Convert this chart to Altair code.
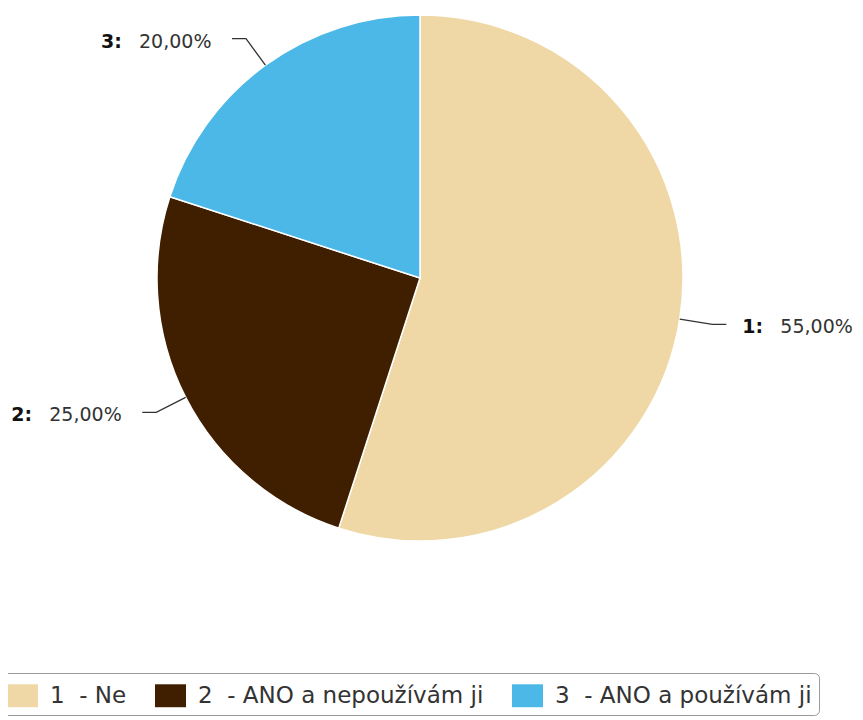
import altair as alt
import pandas as pd

# ---- data ----
categories = ["1", "2", "3"]
names = ["Ne", "ANO a nepoužívám ji", "ANO a používám ji"]
values = [55.0, 25.0, 20.0]
colors = ["#EFD8A5", "#3F1F00", "#4CB8E8"]

# ---- layout constants ----
W, H = 847, 712
CX, CY, R = 412, 270, 263
OUT = 33      # radial length of connector
HOR = 14      # horizontal part of connector
GAP = 16      # gap between connector and label
SPAN = 115    # label width (number + value)
NUMW = 38     # offset of value after number
FONT = "DejaVu Sans"

df = pd.DataFrame({
    "cat": categories,
    "name": names,
    "value": values,
    "ord": list(range(len(categories))),
})
df["legend"] = [f"{c}\u00a0 - {n}" for c, n in zip(categories, names)]

base = alt.Chart(df)

color = alt.Color(
    "legend:N",
    scale=alt.Scale(domain=df["legend"].tolist(), range=colors),
    sort=df["legend"].tolist(),
    legend=alt.Legend(
        title=None, orient="none", legendX=-8, legendY=665,
        direction="horizontal", columns=3,
        symbolType="M-1,-0.74L1,-0.74L1,0.74L-1,0.74Z", symbolSize=961,
        symbolStrokeWidth=0, symbolOpacity=1,
        labelFont=FONT, labelFontSize=23, labelColor="#333",
        labelOffset=12, columnPadding=28, labelLimit=600,
        padding=7, strokeColor="#999", cornerRadius=5, fillColor="white",
    ),
)

pie = base.mark_arc(outerRadius=R, stroke="white", strokeWidth=1.5).encode(
    theta=alt.Theta("value:Q", stack=True),
    color=color,
    order=alt.Order("ord:Q"),
    x=alt.value(CX),
    y=alt.value(CY),
)

geo = (
    base.transform_joinaggregate(total="sum(value)")
    .transform_window(cum="sum(value)", sort=[alt.SortField("ord")], frame=[None, 0])
    .transform_calculate(mid="2*PI*(datum.cum - datum.value/2)/datum.total")
    .transform_calculate(side="sin(datum.mid) >= 0 ? 1 : -1")
    .transform_calculate(
        pct="replace(format(datum.value/datum.total*100, '.2f'), '.', ',') + '%'"
    )
    .transform_calculate(num="datum.cat + ':'")
    .transform_calculate(
        ax=f"{CX} + {R + OUT}*sin(datum.mid) + datum.side*{HOR + GAP}"
    )
    .transform_calculate(ay=f"{CY} - {R + OUT}*cos(datum.mid) + 3")
    .transform_calculate(start=f"datum.side > 0 ? datum.ax : datum.ax - {SPAN}")
    .transform_calculate(vstart=f"datum.start + {NUMW}")
)

lines = (
    geo.transform_calculate(steps="[0, 1, 2]")
    .transform_flatten(["steps"])
    .transform_calculate(rr=f"datum.steps == 0 ? {R} : {R + OUT}")
    .transform_calculate(
        px=f"{CX} + datum.rr*sin(datum.mid) + (datum.steps == 2 ? datum.side*{HOR} : 0)"
    )
    .transform_calculate(py=f"{CY} - datum.rr*cos(datum.mid)")
    .mark_line(color="#333333", strokeWidth=1.3)
    .encode(
        x=alt.X("px:Q", scale=None),
        y=alt.Y("py:Q", scale=None),
        detail="cat:N",
        order="steps:Q",
    )
)

num_text = geo.mark_text(
    align="left", baseline="middle", font=FONT, fontSize=19,
    fontWeight="bold", color="#111111",
).encode(
    x=alt.X("start:Q", scale=None),
    y=alt.Y("ay:Q", scale=None),
    text="num:N",
)

pct_text = geo.mark_text(
    align="left", baseline="middle", font=FONT, fontSize=19, color="#333333",
).encode(
    x=alt.X("vstart:Q", scale=None),
    y=alt.Y("ay:Q", scale=None),
    text="pct:N",
)

chart = (
    alt.layer(pie, lines, num_text, pct_text)
    .properties(width=W, height=H, autosize=alt.AutoSizeParams(type="none"), padding=0)
    .configure_view(stroke=None)
)

chart.save("out.html", embed_options={"renderer": "svg", "actions": False})
